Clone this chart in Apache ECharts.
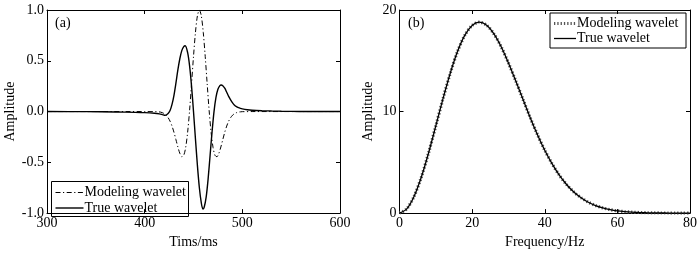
<!DOCTYPE html>
<html>
<head>
<meta charset="utf-8">
<script src="https://cdn.jsdelivr.net/npm/echarts@6/dist/echarts.min.js"></script>
<style>
html,body{margin:0;padding:0;background:#fff;}
#chart{width:700px;height:254px;}
</style>
</head>
<body>
<div id="chart"></div>
<script>
// ---- Data ----
var timeModel = [300, 400, 410, 412, 414, 416, 418, 420, 422, 424, 426, 428, 430, 432, 434, 436, 438, 440, 442, 444, 446, 448, 450, 452, 454, 456, 458, 460, 462, 464, 466, 468, 470, 472, 474, 476, 478, 480, 482, 484, 486, 488, 490, 492, 494, 496, 498, 500, 502, 510, 600];
var valModel = [0, 0, -0.001, -0.001, -0.003, -0.005, -0.011, -0.020, -0.036, -0.060, -0.095, -0.143, -0.204, -0.276, -0.349, -0.411, -0.445, -0.431, -0.353, -0.204, 0.011, 0.272, 0.542, 0.779, 0.942, 1.0, 0.942, 0.779, 0.542, 0.272, 0.011, -0.204, -0.353, -0.431, -0.445, -0.411, -0.349, -0.276, -0.204, -0.143, -0.095, -0.060, -0.036, -0.020, -0.011, -0.005, -0.003, -0.001, -0.001, 0, 0];

var timeTrue = [300, 340, 370, 390, 400, 410, 415, 418, 421, 424, 426, 428, 430, 432, 434, 436, 438, 440, 441.5, 444, 446, 448, 450, 452, 454, 456, 458, 459.6, 461, 463, 465, 467, 469, 471, 473, 475, 477, 478.3, 480, 482, 484, 486, 488, 490, 492, 494, 496, 498, 500, 505, 510, 520, 530, 540, 560, 600];
var valTrue = [0, -0.001, -0.004, -0.008, -0.011, -0.017, -0.023, -0.030, -0.038, -0.020, 0.010, 0.070, 0.160, 0.280, 0.410, 0.520, 0.600, 0.640, 0.648, 0.580, 0.450, 0.250, 0.000, -0.270, -0.530, -0.750, -0.900, -0.960, -0.940, -0.840, -0.660, -0.430, -0.200, 0.000, 0.140, 0.220, 0.255, 0.262, 0.255, 0.230, 0.190, 0.150, 0.115, 0.085, 0.063, 0.048, 0.038, 0.031, 0.026, 0.018, 0.013, 0.008, 0.005, 0.003, 0.001, 0];

var freq = [0, 2, 4, 6, 8, 10, 12, 14, 16, 18, 20, 22, 24, 26, 28, 30, 32, 34, 36, 38, 40, 42, 44, 46, 48, 50, 52, 54, 56, 58, 60, 62, 64, 66, 68, 70, 72, 74, 76, 78, 80];
var ampModel = [0, 0.42, 1.64, 3.53, 5.92, 8.59, 11.29, 13.80, 15.93, 17.52, 18.48, 18.80, 18.50, 17.65, 16.38, 14.79, 13.03, 11.21, 9.40, 7.72, 6.19, 4.87, 3.74, 2.82, 2.08, 1.51, 1.07, 0.74, 0.51, 0.34, 0.22, 0.145, 0.091, 0.057, 0.035, 0.02, 0.012, 0.007, 0.004, 0.002, 0.001];
var ampTrue = [0, 0.42, 1.64, 3.53, 5.92, 8.59, 11.29, 13.80, 15.93, 17.52, 18.48, 18.80, 18.50, 17.65, 16.38, 14.79, 13.03, 11.21, 9.40, 7.72, 6.19, 4.87, 3.74, 2.82, 2.08, 1.51, 1.07, 0.74, 0.51, 0.34, 0.22, 0.145, 0.091, 0.057, 0.035, 0.02, 0.012, 0.007, 0.004, 0.002, 0.001];

var xTicksA = [300, 400, 500, 600];
var yTicksA = [-1.0, -0.5, 0.0, 0.5, 1.0];
var xTicksB = [0, 20, 40, 60, 80];
var yTicksB = [0, 10, 20];
var seriesNames = ['Modeling wavelet', 'True wavelet'];

function zip(a, b) { return a.map(function (v, i) { return [v, b[i]]; }); }

var FONT = '"Liberation Serif", "Times New Roman", serif';
var FS = 14;

function xAx(grid, ticks, pos, show, name) {
  return {
    type: 'value', gridIndex: grid, position: pos,
    min: ticks[0], max: ticks[ticks.length - 1], interval: ticks[1] - ticks[0],
    name: show ? name : '', nameLocation: 'middle', nameGap: 15,
    nameTextStyle: { fontFamily: FONT, fontSize: FS, color: '#000' },
    axisLine: { show: true, onZero: false, lineStyle: { color: '#000', width: 1 } },
    axisTick: { show: true, inside: true, length: 4, lineStyle: { color: '#000' } },
    axisLabel: { show: show, fontFamily: FONT, fontSize: FS, color: '#000', margin: 3 },
    splitLine: { show: false }
  };
}
function yAx(grid, ticks, pos, show, name, fmt) {
  return {
    type: 'value', gridIndex: grid, position: pos,
    min: ticks[0], max: ticks[ticks.length - 1], interval: ticks[1] - ticks[0],
    name: show ? name : '', nameLocation: 'middle', nameGap: show ? (fmt ? 30 : 24) : 0,
    nameTextStyle: { fontFamily: FONT, fontSize: FS, color: '#000' },
    axisLine: { show: true, onZero: false, lineStyle: { color: '#000', width: 1 } },
    axisTick: { show: true, inside: true, length: 4, lineStyle: { color: '#000' } },
    axisLabel: { show: show, fontFamily: FONT, fontSize: FS, color: '#000', margin: 3,
      formatter: fmt ? function (v) { return v.toFixed(1); } : null },
    splitLine: { show: false }
  };
}

// legend drawn as a boxed group (lines + text)
function legendBox(x, y, w, h, lineLen, rowY, styles) {
  var children = [
    { type: 'rect', shape: { x: 0, y: 0, width: w, height: h }, style: { fill: '#fff', stroke: '#000', lineWidth: 1 } }
  ];
  seriesNames.forEach(function (n, i) {
    children.push({ type: 'line', shape: { x1: 4, y1: rowY[i], x2: 4 + lineLen, y2: rowY[i] }, style: styles[i] });
    children.push({ type: 'text', x: 5 + lineLen, y: rowY[i], style: { text: n, font: FS + 'px ' + FONT, fill: '#000', verticalAlign: 'middle', textAlign: 'left' } });
  });
  return { type: 'group', x: x, y: y, z: 100, children: children };
}

var chart = echarts.init(document.getElementById('chart'), null, { renderer: 'canvas' });
var option = {
  animation: false,
  backgroundColor: '#fff',
  grid: [
    { left: 47, top: 10, width: 293, height: 211.5 },
    { left: 399.5, top: 10, width: 292, height: 211.5 }
  ],
  xAxis: [
    xAx(0, xTicksA, 'bottom', true, 'Tims/ms'),
    xAx(0, xTicksA, 'top', false, ''),
    xAx(1, xTicksB, 'bottom', true, 'Frequency/Hz'),
    xAx(1, xTicksB, 'top', false, '')
  ],
  yAxis: [
    yAx(0, yTicksA, 'left', true, 'Amplitude', true),
    yAx(0, yTicksA, 'right', false, '', true),
    yAx(1, yTicksB, 'left', true, 'Amplitude', false),
    yAx(1, yTicksB, 'right', false, '', false)
  ],
  graphic: [
    { type: 'text', left: 55, top: 16, style: { text: '(a)', font: FS + 'px ' + FONT, fill: '#000' } },
    { type: 'text', left: 408, top: 16, style: { text: '(b)', font: FS + 'px ' + FONT, fill: '#000' } },
    legendBox(51.5, 181.5, 137, 35, 28, [11, 26.5], [
      { stroke: '#000', lineWidth: 1, lineDash: [5, 2.5, 1.2, 2.5] },
      { stroke: '#000', lineWidth: 1.4 }
    ]),
    legendBox(550, 13, 136, 35, 22, [10.5, 25.5], [
      { stroke: '#555', lineWidth: 3, lineDash: [1.3, 2] },
      { stroke: '#000', lineWidth: 1.3 }
    ])
  ],
  series: [
    {
      name: seriesNames[0], type: 'line', xAxisIndex: 0, yAxisIndex: 0,
      data: zip(timeModel, valModel), smooth: 0.3, symbol: 'none',
      lineStyle: { color: '#000', width: 1, type: [5, 2.5, 1.2, 2.5] }
    },
    {
      name: seriesNames[1], type: 'line', xAxisIndex: 0, yAxisIndex: 0,
      data: zip(timeTrue, valTrue), smooth: 0.3, symbol: 'none',
      lineStyle: { color: '#000', width: 1.4 }
    },
    {
      name: seriesNames[0] + ' (b)', type: 'line', xAxisIndex: 2, yAxisIndex: 2,
      data: zip(freq, ampModel), smooth: 0.3, symbol: 'none',
      lineStyle: { color: '#555', width: 3.2, type: [1.3, 2] }
    },
    {
      name: seriesNames[1] + ' (b)', type: 'line', xAxisIndex: 2, yAxisIndex: 2,
      data: zip(freq, ampTrue), smooth: 0.3, symbol: 'none',
      lineStyle: { color: '#000', width: 1.3 }
    }
  ]
};
chart.setOption(option);
</script>
</body>
</html>
